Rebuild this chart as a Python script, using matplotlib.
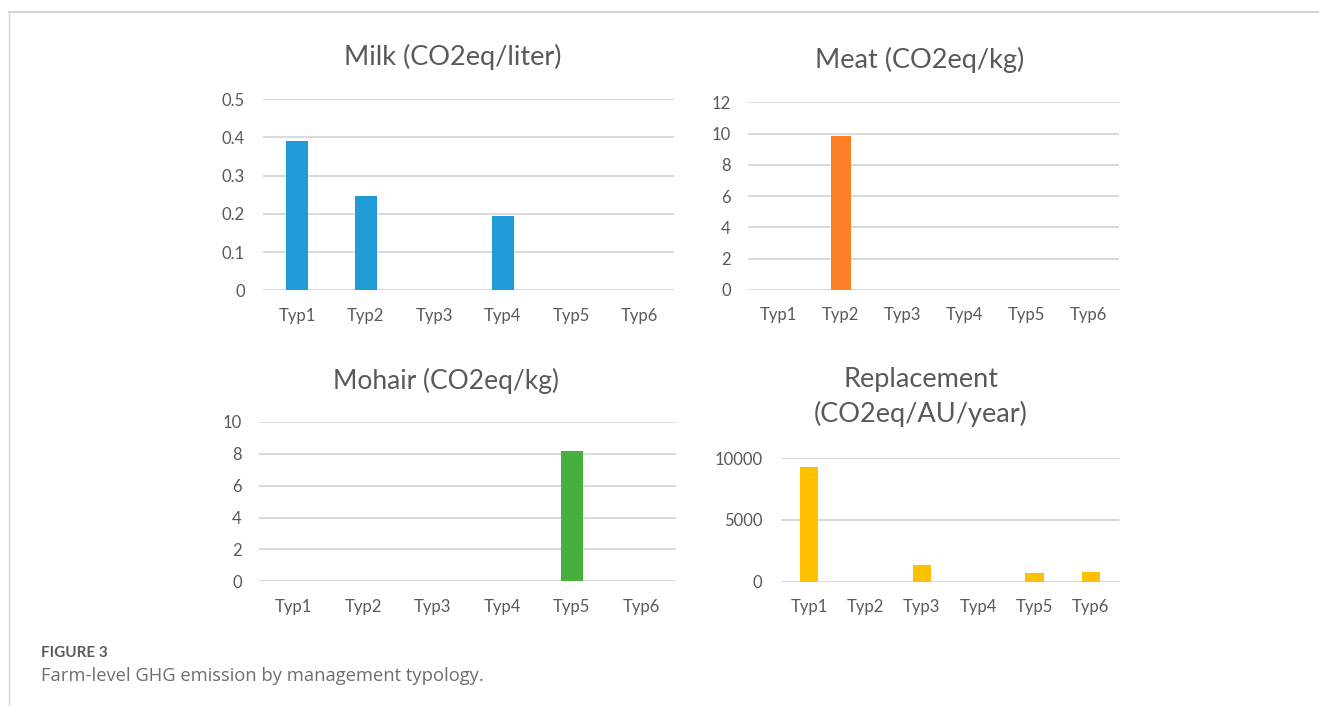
import matplotlib
matplotlib.use("Agg")
import matplotlib.pyplot as plt
from matplotlib.lines import Line2D

plt.rcParams['font.family'] = ['Lato', 'DejaVu Sans']

categories = ["Typ1", "Typ2", "Typ3", "Typ4", "Typ5", "Typ6"]
milk = [0.39, 0.246, 0, 0.195, 0, 0]
meat = [0, 9.85, 0, 0, 0, 0]
mohair = [0, 0, 0, 0, 8.18, 0]
replacement = [9320, 0, 1350, 0, 720, 770]

milk_ticks = [0, 0.1, 0.2, 0.3, 0.4, 0.5]
milk_ticklabels = ["0", "0.1", "0.2", "0.3", "0.4", "0.5"]
meat_ticks = [0, 2, 4, 6, 8, 10, 12]
mohair_ticks = [0, 2, 4, 6, 8, 10]
repl_ticks = [0, 5000, 10000]

titles = ["Milk (CO2eq/liter)", "Meat (CO2eq/kg)", "Mohair (CO2eq/kg)",
          "Replacement\n(CO2eq/AU/year)"]

W, H = 1319, 706
fig = plt.figure(figsize=(W / 100, H / 100), dpi=100)

TXT = "#595959"
GRID = "#d9d9d9"


def add_ax(x0, x1, ytop, ybot):
    return fig.add_axes([x0 / W, (H - ybot) / H, (x1 - x0) / W, (ybot - ytop) / H])


def style(ax, vals, color, ticks, ticklabels, ymax, ypad):
    ax.bar(range(len(categories)), vals, width=0.32, color=color, zorder=3)
    ax.set_xlim(-0.5, len(categories) - 0.5)
    ax.set_ylim(0, ymax)
    ax.set_yticks(ticks)
    ax.set_yticklabels(ticklabels)
    ax.set_xticks(range(len(categories)))
    ax.set_xticklabels(categories)
    for s in ax.spines.values():
        s.set_visible(False)
    ax.yaxis.grid(True, color=GRID, linewidth=1.4, zorder=0)
    ax.set_axisbelow(True)
    ax.tick_params(axis='both', length=0, labelsize=12, labelcolor=TXT)
    ax.tick_params(axis='y', pad=ypad)
    ax.tick_params(axis='x', pad=12.5)
    ax.patch.set_alpha(0)


ax1 = add_ax(263, 674, 99, 290.3)
style(ax1, milk, "#1f9bd7", milk_ticks, milk_ticklabels, 0.5, 13)
ax2 = add_ax(748, 1119, 102.3, 290)
style(ax2, meat, "#ff7f27", meat_ticks, [str(t) for t in meat_ticks], 12, 12.5)
ax3 = add_ax(259, 676, 422, 581.3)
style(ax3, mohair, "#47af3c", mohair_ticks, [str(t) for t in mohair_ticks], 10, 12.5)
ax4 = add_ax(781, 1119, 458.3, 581.7)
style(ax4, replacement, "#ffc000", repl_ticks, [str(t) for t in repl_ticks], 10000, 13.5)

def ftext(x, y, s, **kw):
    fig.text(x / W, 1 - y / H, s, **kw)

ftext(453, 57, titles[0], ha='center', va='center', fontsize=19.5, color=TXT)
ftext(920, 60, titles[1], ha='center', va='center', fontsize=19.5, color=TXT)
ftext(446, 381, titles[2], ha='center', va='center', fontsize=19, color=TXT)
ftext(921, 397, titles[3], ha='center', va='center', fontsize=19.5, color=TXT,
      linespacing=1.4)

ftext(41, 653, "FIGURE 3", ha='left', va='center', fontsize=11, color="#5a5a5a",
      fontweight='bold')
ftext(41, 676, "Farm-level GHG emission by management typology.", ha='left',
      va='center', fontsize=13.2, color="#6e6e6e",
      family=['Open Sans', 'DejaVu Sans'])

# frame lines
fig.add_artist(Line2D([9 / W, 1], [1 - 12 / H, 1 - 12 / H], color="#d6d6d6",
                      linewidth=1.5, transform=fig.transFigure))
fig.add_artist(Line2D([9 / W, 9 / W], [0, 1 - 12 / H], color="#d6d6d6",
                      linewidth=1.0, transform=fig.transFigure))

fig.savefig("out.png", dpi=100)
